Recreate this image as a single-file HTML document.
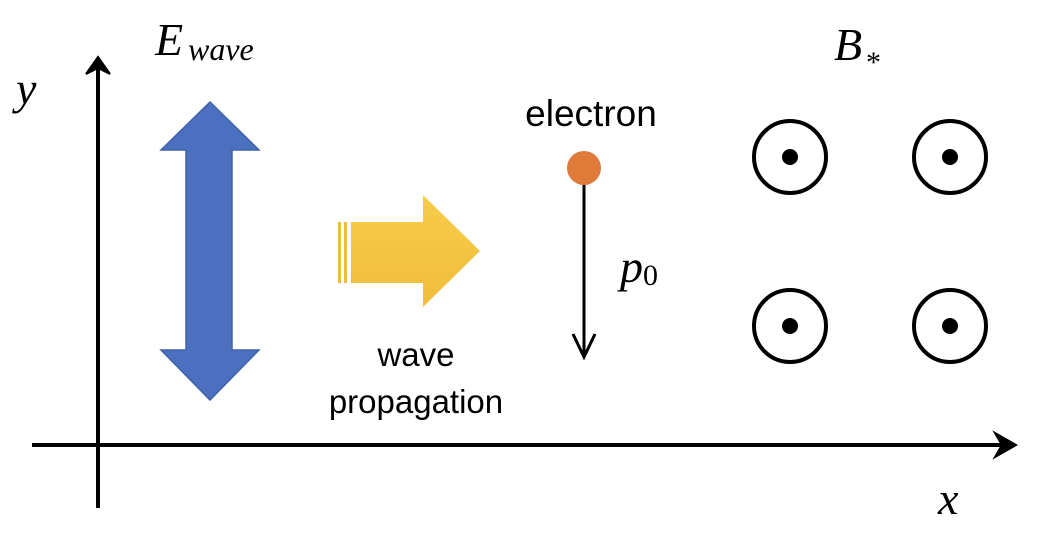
<!DOCTYPE html>
<html><head><style>
html,body{margin:0;padding:0;background:#fff;}
svg{display:block}
.m{font-family:"Liberation Serif",serif;font-style:italic;}
.s{font-family:"Liberation Sans",sans-serif;}
</style></head><body>
<svg width="1040" height="534" viewBox="0 0 1040 534" xmlns="http://www.w3.org/2000/svg">
<defs>
<linearGradient id="yg" x1="0" y1="0" x2="0" y2="1">
<stop offset="0" stop-color="#f6cc4a"/><stop offset="1" stop-color="#f0bd3a"/>
</linearGradient>
</defs>
<!-- axes -->
<line x1="98" y1="66" x2="98" y2="508" stroke="#000" stroke-width="4"/>
<polygon points="86,74 98,57 110,74 98,68" fill="#000" stroke="#000" stroke-width="2"/>
<line x1="32" y1="445" x2="1010" y2="445" stroke="#000" stroke-width="4"/>
<polygon points="995,433 1016,445 995,457 1002,445" fill="#000" stroke="#000" stroke-width="2"/>
<text x="16" y="104" class="m" font-size="46">y</text>
<text x="938" y="514" class="m" font-size="46">x</text>
<!-- E wave -->
<text x="155" y="55" class="m" font-size="46">E</text>
<text x="188" y="60" class="m" font-size="32">wave</text>
<polygon points="210,102 259,150 232,150 232,350 259,350 210,400 161,350 186,350 186,150 161,150" fill="#4a70bf" stroke="#3f62a8" stroke-width="1.5"/>
<!-- yellow arrow -->
<rect x="338" y="222" width="3" height="61" fill="#f0bd3a"/>
<rect x="344" y="222" width="3" height="61" fill="#f0bd3a"/>
<polygon points="351,222 423,222 423,195 480,251 423,307 423,283 351,283" fill="url(#yg)"/>
<text x="416" y="366" class="s" font-size="33" text-anchor="middle">wave</text>
<text x="416" y="413" class="s" font-size="33" text-anchor="middle">propagation</text>
<!-- electron -->
<text x="591" y="126" class="s" font-size="37" text-anchor="middle">electron</text>
<line x1="584" y1="180" x2="584" y2="357" stroke="#000" stroke-width="3"/>
<polyline points="573,334 584,357 595,334" fill="none" stroke="#000" stroke-width="3"/>
<circle cx="584" cy="168" r="17" fill="#e07b3a"/>
<text x="620" y="282" class="m" font-size="46">p</text>
<text x="643" y="285" font-family="Liberation Serif,serif" font-size="30">0</text>
<!-- B -->
<text x="834" y="60" class="m" font-size="46">B</text>
<text x="866" y="72" font-family="Liberation Serif,serif" font-size="30">*</text>
<g fill="none" stroke="#000" stroke-width="4">
<circle cx="790" cy="157" r="36"/><circle cx="950" cy="157" r="36"/>
<circle cx="790" cy="326" r="36"/><circle cx="950" cy="326" r="36"/>
</g>
<g fill="#000">
<circle cx="790" cy="157" r="8"/><circle cx="950" cy="157" r="8"/>
<circle cx="790" cy="326" r="8"/><circle cx="950" cy="326" r="8"/>
</g>
</svg>
</body></html>
